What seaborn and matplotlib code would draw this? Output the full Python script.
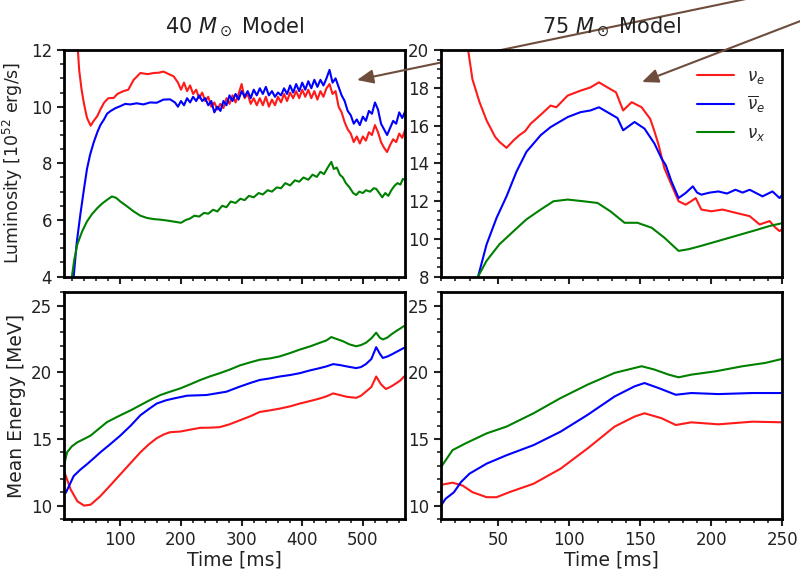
"""Neutrino luminosities and mean energies for the 40 and 75 Msun models."""
import pandas as pd
import seaborn as sns
import matplotlib
matplotlib.use("Agg")
import matplotlib.pyplot as plt
from matplotlib.ticker import MultipleLocator

FLAVOURS = [r"$\nu_e$", r"$\overline{\nu}_e$", r"$\nu_x$"]
PALETTE = dict(zip(FLAVOURS, ["#ff1a1a", "#0000ff", "#008000"]))

# ---- 40 Msun, luminosity [1e52 erg/s] ----
t40_lum_e = [25, 29, 32, 36, 40, 45, 51, 56, 62, 67, 73, 80, 89, 95, 105, 113, 122, 133, 145, 155,
             163, 171, 180, 188,
             195, 200, 205, 210, 215, 220, 225, 230, 235, 240, 245, 250, 255, 260, 265, 270, 275, 280,
             285, 290, 295, 300, 305, 310, 315, 320, 325, 330, 335, 340, 345, 350, 355, 360, 365, 370,
             375, 380, 385, 390, 395, 400, 405, 410, 415, 420, 425, 430, 435, 440, 445, 450, 455, 460,
             465, 470, 475, 480, 485, 490, 495, 500, 505, 510, 515, 520, 525, 530, 535, 540, 545, 550,
             555, 560, 565, 570]
lum40_e = [13.5, 12.3, 11.3, 10.6, 10.1, 9.6, 9.33, 9.5, 9.67, 9.9, 10.14, 10.3, 10.31, 10.45, 10.55,
           10.6, 10.95, 11.19, 11.15, 11.19, 11.2, 11.24, 11.15, 11.07,
           10.85, 10.6, 10.85, 10.55, 10.75, 10.45, 10.6, 10.3, 10.5, 10.2, 10.35, 10.0, 10.15, 9.9,
           10.1, 9.95, 10.3, 10.1, 10.4, 10.15, 10.45, 10.8, 10.3, 10.45, 10.1, 10.3, 10.05, 10.3,
           10.05, 10.35, 10.0, 10.25, 10.05, 10.35, 10.15, 10.45, 10.2, 10.5, 10.3, 10.55, 10.3, 10.6,
           10.35, 10.6, 10.3, 10.55, 10.25, 10.55, 10.35, 10.65, 10.8, 10.45, 10.55, 10.0, 9.8, 9.45,
           9.2, 9.05, 8.75, 8.95, 8.7, 8.95, 8.8, 9.1, 9.0, 9.35, 9.1, 8.75, 8.55, 8.4, 8.65, 8.85,
           8.75, 9.05, 8.9, 9.2]
t40_lum_a = [20, 23, 28, 34, 40, 45, 50, 56, 62, 67, 73, 78, 84, 92, 100, 108, 116, 127, 138, 149,
             160, 171, 182, 190,
             195, 200, 205, 210, 215, 220, 225, 230, 235, 240, 245, 250, 255, 260, 265, 270, 275, 280,
             285, 290, 295, 300, 305, 310, 315, 320, 325, 330, 335, 340, 345, 350, 355, 360, 365, 370,
             375, 380, 385, 390, 395, 400, 405, 410, 415, 420, 425, 430, 435, 440, 445, 450, 455, 460,
             465, 470, 475, 480, 485, 490, 495, 500, 505, 510, 515, 520, 525, 530, 535, 540, 545, 550,
             555, 560, 565, 570]
lum40_a = [3.5, 4.0, 5.2, 6.2, 7.1, 7.81, 8.3, 8.74, 9.1, 9.35, 9.55, 9.75, 9.85, 9.95, 10.02, 10.1,
           10.08, 10.12, 10.08, 10.15, 10.14, 10.25, 10.26, 10.15,
           10.0, 10.2, 10.05, 10.3, 10.15, 10.35, 10.2, 10.4, 10.2, 10.3, 10.05, 10.2, 9.8, 10.0,
           9.85, 10.2, 10.05, 10.4, 10.2, 10.45, 10.25, 10.55, 10.35, 10.55, 10.3, 10.6, 10.4, 10.65,
           10.45, 10.7, 10.4, 10.55, 10.35, 10.5, 10.4, 10.65, 10.45, 10.75, 10.5, 10.8, 10.55, 10.85,
           10.6, 10.9, 10.65, 10.95, 10.7, 10.95, 10.75, 11.0, 11.3, 10.85, 11.0, 10.7, 10.4, 10.2,
           9.85, 9.7, 9.4, 9.55, 9.35, 9.65, 9.5, 9.85, 9.75, 10.15, 9.9, 9.4, 9.2, 9.0, 9.25, 9.5,
           9.4, 9.8, 9.6, 9.85]
t40_lum_x = [18, 20, 24, 29, 37, 45, 53, 62, 70, 78, 86, 93, 100, 111, 122, 133, 144, 155, 166, 180,
             200, 208, 215, 222, 230, 238, 245, 253, 260, 268, 275, 282, 290, 298, 305, 312, 320, 328,
             335, 343, 350, 358, 365, 372, 380, 388, 395, 402, 410, 417, 424, 430, 436, 442, 448, 452,
             457, 462, 467, 472, 478, 484, 489, 494, 500, 505, 512, 518, 522, 527, 532, 537, 542, 547,
             552, 557, 562, 566, 570]
lum40_x = [3.5, 4.0, 4.6, 5.14, 5.6, 5.95, 6.2, 6.42, 6.58, 6.71, 6.83, 6.78, 6.65, 6.48, 6.3, 6.15,
           6.07, 6.03, 6.01, 5.97,
           5.9, 6.0, 6.05, 6.15, 6.12, 6.25, 6.22, 6.36, 6.3, 6.5, 6.45, 6.65, 6.6, 6.75, 6.7, 6.85,
           6.8, 6.95, 6.9, 7.05, 7.0, 7.15, 7.12, 7.3, 7.22, 7.4, 7.35, 7.5, 7.42, 7.6, 7.52, 7.7,
           7.62, 7.85, 8.05, 7.8, 7.85, 7.6, 7.5, 7.3, 7.15, 6.95, 6.88, 7.0, 6.95, 7.05, 7.0, 7.12,
           7.1, 6.95, 6.8, 6.95, 6.85, 7.05, 7.2, 7.3, 7.25, 7.45, 7.4]

# ---- 40 Msun, mean energy [MeV] ----
t40_en_e = [7, 10, 18, 29, 40, 51, 67, 83, 100, 117, 133, 147, 160, 172, 182, 199, 215, 232, 248, 264,
            280, 297, 314, 330, 347, 363, 380, 396, 413, 429, 440, 451, 462, 473, 489, 497, 505, 514, 522,
            530, 538, 547, 555, 562, 568]
en40_e = [12.6, 12.22, 11.21, 10.33, 10.0, 10.07, 10.71, 11.5, 12.35, 13.2, 14.0, 14.6, 15.06, 15.35,
          15.51, 15.56, 15.7, 15.84, 15.85, 15.89, 16.1, 16.4, 16.7, 17.03, 17.15, 17.28, 17.45, 17.66,
          17.85, 18.04, 18.2, 18.42, 18.3, 18.17, 18.09, 18.25, 18.55, 18.9, 19.69, 19.1, 18.75, 18.95,
          19.18, 19.4, 19.69]
t40_en_a = [7, 10, 23, 34, 45, 56, 67, 83, 100, 117, 133, 147, 160, 175, 188, 210, 242, 275, 297, 314,
            330, 347, 363, 380, 396, 413, 429, 440, 451, 462, 473, 489, 497, 505, 514, 522, 528, 533, 541,
            549, 558, 568]
en40_a = [11.2, 10.96, 12.22, 12.7, 13.11, 13.55, 14.0, 14.6, 15.26, 16.0, 16.78, 17.25, 17.66, 17.9,
          18.04, 18.25, 18.3, 18.55, 18.93, 19.2, 19.43, 19.55, 19.69, 19.8, 19.94, 20.15, 20.32, 20.45,
          20.62, 20.55, 20.45, 20.32, 20.4, 20.62, 21.0, 21.89, 21.4, 21.08, 21.2, 21.38, 21.6, 21.84]
t40_en_x = [7, 12, 20, 29, 40, 51, 64, 78, 90, 100, 117, 133, 150, 166, 182, 199, 215, 232, 248, 264,
            280, 297, 314, 330, 347, 363, 380, 396, 413, 429, 440, 448, 457, 467, 478, 489, 497, 505, 514,
            522, 528, 533, 540, 547, 555, 562, 568]
en40_x = [13.0, 14.0, 14.45, 14.75, 15.0, 15.26, 15.75, 16.27, 16.55, 16.78, 17.15, 17.54, 17.95,
          18.3, 18.55, 18.8, 19.1, 19.43, 19.7, 19.94, 20.2, 20.52, 20.75, 20.95, 21.05, 21.2, 21.45,
          21.71, 21.95, 22.22, 22.4, 22.65, 22.5, 22.34, 22.1, 21.96, 22.05, 22.22, 22.55, 22.98, 22.6,
          22.47, 22.6, 22.85, 23.1, 23.3, 23.48]

# ---- 75 Msun, luminosity [1e52 erg/s] ----
t75_lum_e = [27, 29, 32, 37, 42, 48, 51, 56, 61, 65, 69, 73, 80, 87, 91, 99, 108, 115, 121, 127, 133,
             138, 144, 151, 157, 160, 163, 167, 172, 177, 182, 186, 189, 193, 200, 208, 217, 227, 234,
             241, 245, 248, 251]
lum75_e = [21.0, 20.0, 18.46, 17.24, 16.27, 15.4, 15.14, 14.82, 15.22, 15.49, 15.7, 16.1, 16.57,
           17.06, 16.97, 17.59, 17.85, 18.02, 18.29, 18.02, 17.76, 16.8, 17.24, 16.97, 16.36, 15.7, 14.96,
           13.74, 12.86, 11.99, 11.81, 12.0, 12.16, 11.55, 11.46, 11.55, 11.38, 11.2, 10.76, 10.94,
           10.6, 10.41, 10.59]
t75_lum_a = [33, 36, 42, 49, 56, 63, 70, 80, 87, 99, 108, 115, 121, 129, 134, 138, 146, 153, 160, 165,
             168, 172, 177, 182, 187, 190, 193, 199, 205, 211, 217, 222, 227, 236, 243, 248, 251]
lum75_a = [7.5, 8.0, 9.71, 11.11, 12.25, 13.56, 14.61, 15.49, 15.92, 16.45, 16.71, 16.8, 16.97,
           16.62, 16.4, 15.75, 16.19, 15.84, 15.05, 14.26, 13.9, 13.04, 12.16, 12.43, 12.78, 12.45,
           12.34, 12.45, 12.51, 12.4, 12.6, 12.45, 12.6, 12.25, 12.51, 12.16, 12.43]
t75_lum_x = [33, 36, 42, 51, 61, 70, 80, 89, 99, 110, 120, 129, 139, 148, 158, 167, 177, 184, 193, 205,
             217, 229, 241, 251]
lum75_x = [7.5, 8.0, 8.84, 9.71, 10.41, 11.03, 11.55, 11.99, 12.08, 11.99, 11.9, 11.46, 10.85, 10.85,
           10.59, 10.06, 9.36, 9.45, 9.63, 9.89, 10.15, 10.41, 10.68, 10.85]

# ---- 75 Msun, mean energy [MeV] ----
t75_en_e = [10, 18, 25, 32, 42, 49, 58, 75, 94, 113, 132, 146, 153, 165, 175, 186, 205, 229, 251]
en75_e = [11.56, 11.72, 11.51, 11.01, 10.63, 10.63, 11.01, 11.64, 12.77, 14.29, 15.93, 16.68, 16.93,
          16.56, 16.05, 16.25, 16.1, 16.3, 16.25]
t75_en_a = [10, 13, 19, 24, 30, 42, 56, 75, 94, 113, 132, 146, 153, 163, 175, 186, 205, 229, 251]
en75_a = [10.0, 10.5, 11.0, 11.77, 12.4, 13.15, 13.78, 14.54, 15.55, 16.81, 18.19, 18.95, 19.2, 18.82,
          18.32, 18.45, 18.37, 18.45, 18.45]
t75_en_x = [10, 18, 27, 42, 56, 75, 94, 113, 132, 151, 160, 170, 177, 186, 203, 222, 238, 251]
en75_x = [12.9, 14.16, 14.66, 15.42, 15.93, 16.93, 18.07, 19.08, 19.96, 20.46, 20.21, 19.83, 19.63,
          19.83, 20.08, 20.46, 20.71, 21.04]


def long_df(series):
    frames = [pd.DataFrame({"t": t, "v": v, "flavour": lab}) for lab, (t, v) in zip(FLAVOURS, series)]
    return pd.concat(frames, ignore_index=True)


panels = {
    (0, 0): long_df([(t40_lum_e, lum40_e), (t40_lum_a, lum40_a), (t40_lum_x, lum40_x)]),
    (0, 1): long_df([(t75_lum_e, lum75_e), (t75_lum_a, lum75_a), (t75_lum_x, lum75_x)]),
    (1, 0): long_df([(t40_en_e, en40_e), (t40_en_a, en40_a), (t40_en_x, en40_x)]),
    (1, 1): long_df([(t75_en_e, en75_e), (t75_en_a, en75_a), (t75_en_x, en75_x)]),
}

sns.set_style("ticks")
plt.rcParams["font.family"] = ["DejaVu Sans"]
plt.rcParams["mathtext.fontset"] = "dejavusans"

fig, axes = plt.subplots(2, 2, figsize=(8, 5.69), dpi=100)
fig.subplots_adjust(left=0.08, right=0.978, top=0.912, bottom=0.088, wspace=0.105, hspace=0.07)

for (r, c), df in panels.items():
    ax = axes[r, c]
    sns.lineplot(data=df, x="t", y="v", hue="flavour", palette=PALETTE, sort=False, estimator=None,
                 lw=1.5, ax=ax, legend=(r == 0 and c == 1))
    ax.set_xlabel("")
    ax.set_ylabel("")
    for sp in ax.spines.values():
        sp.set_visible(True)
        sp.set_linewidth(2.0)
        sp.set_color("black")
    ax.tick_params(which="major", direction="out", length=5, width=1.5, labelsize=12, colors="#222222")
    ax.tick_params(which="minor", direction="out", length=3, width=1.2, colors="#222222")
    if c == 0:
        ax.set_xlim(7, 570)
        ax.xaxis.set_major_locator(MultipleLocator(100))
        ax.xaxis.set_minor_locator(MultipleLocator(20))
    else:
        ax.set_xlim(10, 250)
        ax.xaxis.set_major_locator(MultipleLocator(50))
        ax.xaxis.set_minor_locator(MultipleLocator(10))
    if r == 0:
        ax.set_ylim(4, 12) if c == 0 else ax.set_ylim(8, 20)
        ax.yaxis.set_major_locator(MultipleLocator(2))
        ax.yaxis.set_minor_locator(MultipleLocator(0.5))
        ax.tick_params(labelbottom=False)
    else:
        ax.set_ylim(9, 26)
        ax.yaxis.set_major_locator(MultipleLocator(5))
        ax.yaxis.set_minor_locator(MultipleLocator(1))
        ax.set_xlabel("Time [ms]", fontsize=13.5, color="#222222", labelpad=1)

axes[0, 0].set_ylabel(r"Luminosity [$10^{52}$ erg/s]", fontsize=12.5, color="#222222", labelpad=4)
axes[1, 0].set_ylabel("Mean Energy [MeV]", fontsize=13.5, color="#222222", labelpad=4)
axes[0, 0].set_title(r"40 $M_\odot$ Model", fontsize=15, pad=12, color="#222222")
axes[0, 1].set_title(r"75 $M_\odot$ Model", fontsize=15, pad=12, color="#222222")

leg = axes[0, 1].legend(loc="upper right", frameon=False, fontsize=12, handlelength=2.2,
                        borderaxespad=0.6, labelspacing=0.5)
for line in leg.get_lines():
    line.set_linewidth(1.5)

arrow_kw = dict(arrowstyle="-|>,head_length=0.7,head_width=0.3", color="#6e4d3d", lw=1.5,
                mutation_scale=14, shrinkA=0, shrinkB=0)
axes[0, 0].annotate("", xy=(357 / 800, 1 - 80 / 569), xycoords="figure fraction",
                    xytext=(765 / 800, 1 + 5 / 569), textcoords="figure fraction",
                    arrowprops=arrow_kw, annotation_clip=False)
axes[0, 1].annotate("", xy=(642 / 800, 1 - 82 / 569), xycoords="figure fraction",
                    xytext=(868 / 800, 1 + 5 / 569), textcoords="figure fraction",
                    arrowprops=arrow_kw, annotation_clip=False)

fig.savefig("out.png", dpi=100)
plt.close(fig)
